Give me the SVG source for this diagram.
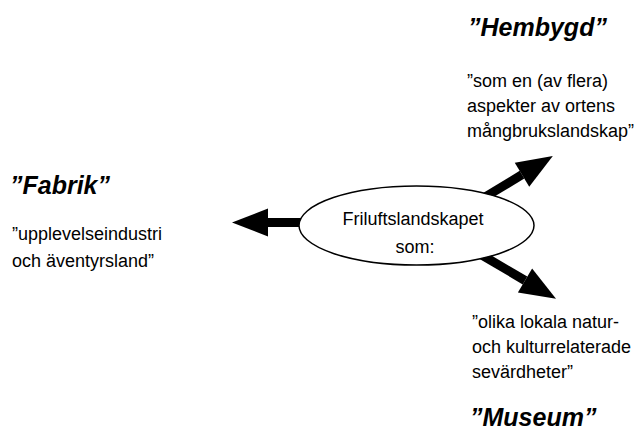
<svg xmlns="http://www.w3.org/2000/svg" width="640" height="435" viewBox="0 0 640 435">
<style>
.t{font-family:"Liberation Sans",Arial,sans-serif;font-size:25px;font-weight:bold;font-style:italic;fill:#000}
.b{font-family:"Liberation Sans",Arial,sans-serif;font-size:18px;fill:#000}
.c{font-family:"Liberation Sans",Arial,sans-serif;font-size:18px;fill:#000;text-anchor:middle}
.arr{stroke:#000;stroke-width:9;fill:none;marker-end:url(#head)}
</style>
<defs>
<marker id="head" markerUnits="userSpaceOnUse" markerWidth="40" markerHeight="30" refX="0" refY="14" orient="auto" overflow="visible">
<path d="M0,0 L36,14 L0,28 Z" fill="#000"/>
</marker>
</defs>
<rect width="640" height="435" fill="#fff"/>
<g id="connectors">
<line class="arr" x1="320" y1="222.5" x2="268" y2="222.5"/>
<line class="arr" x1="480" y1="200" x2="522" y2="174.7"/>
<line class="arr" x1="475" y1="251" x2="525" y2="280.5"/>
</g>
<g id="center">
<ellipse cx="416.5" cy="225.5" rx="117.5" ry="39.5" fill="#fff" stroke="#000" stroke-width="1.5"/>
<text class="c" x="413" y="225">Friluftslandskapet</text>
<text class="c" x="415" y="253">som:</text>
</g>
<g id="hembygd">
<text class="t" x="468" y="36">”Hembygd”</text>
<text class="b" x="467" y="87">”som en (av flera)</text>
<text class="b" x="467" y="112">aspekter av ortens</text>
<text class="b" x="467" y="137">mångbrukslandskap”</text>
</g>
<g id="fabrik">
<text class="t" x="10" y="194">”Fabrik”</text>
<text class="b" x="12" y="240">”upplevelseindustri</text>
<text class="b" x="12" y="267">och äventyrsland”</text>
</g>
<g id="museum">
<text class="b" x="472" y="328">”olika lokala natur-</text>
<text class="b" x="472" y="353">och kulturrelaterade</text>
<text class="b" x="472" y="378">sevärdheter”</text>
<text class="t" x="470" y="426">”Museum”</text>
</g>
</svg>
